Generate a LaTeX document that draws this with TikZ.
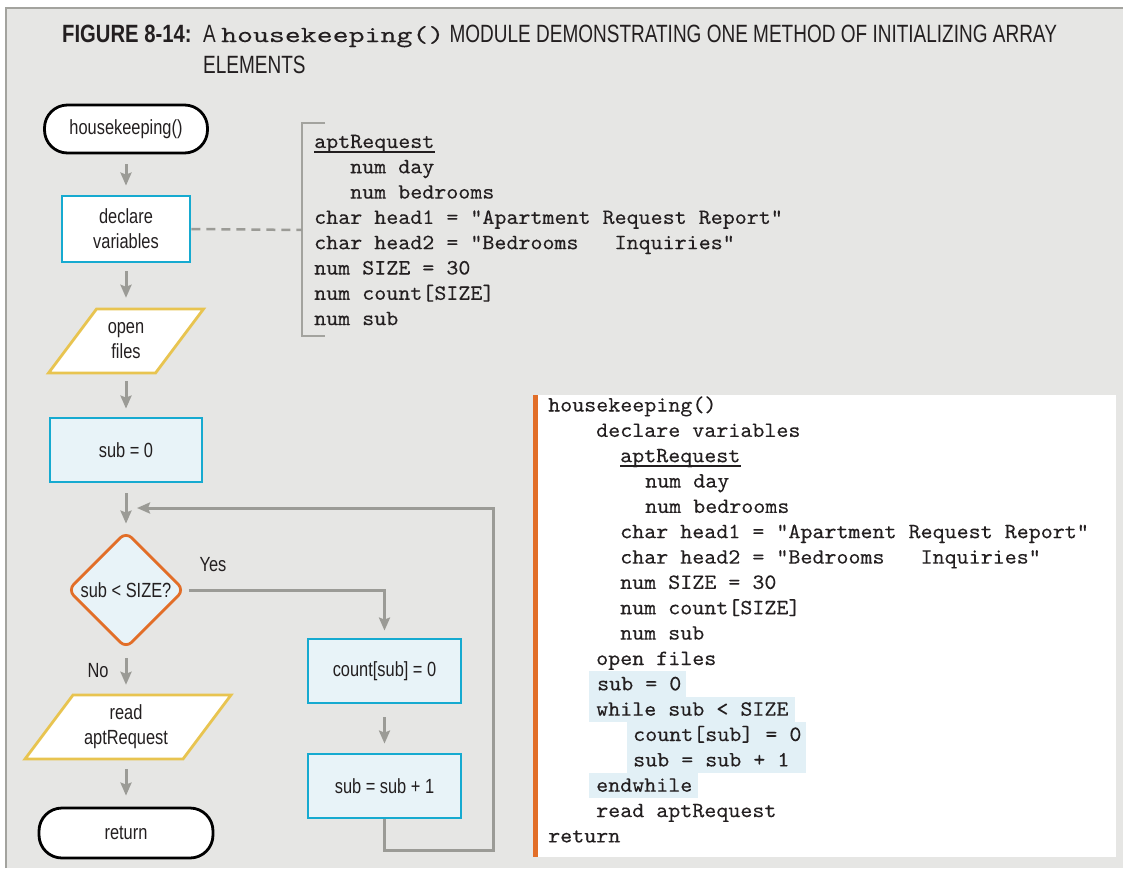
\documentclass[tikz,border=0pt]{standalone}
\usepackage{fontspec}
\setmainfont[FakeStretch=0.8]{Liberation Sans}
\newfontfamily\titlefont[FakeStretch=0.76]{Liberation Sans}
\newfontfamily\titleboldfont[FakeStretch=0.81]{Liberation Sans Bold}
\newfontfamily\codefont[FakeStretch=1.05,FakeBold=0.15]{lmmono10-regular.otf}
\newfontfamily\titlemono[FakeStretch=1.32,FakeBold=0.1]{lmmono10-regular.otf}
\usetikzlibrary{arrows.meta,shapes.geometric,calc}
\pgfdeclarelayer{bglayer}
\pgfsetlayers{bglayer,main}
\definecolor{bgc}{RGB}{230,230,228}
\definecolor{framec}{RGB}{163,163,158}
\definecolor{arrgray}{RGB}{155,155,150}
\definecolor{cyanb}{RGB}{22,170,208}
\definecolor{lblue}{RGB}{232,243,248}
\definecolor{orng}{RGB}{226,110,40}
\definecolor{yel}{RGB}{232,196,80}
\definecolor{hl}{RGB}{226,240,246}
\definecolor{txt}{RGB}{35,31,32}
\begin{document}
\begin{tikzpicture}[x=1pt,y=-1pt,
  flowtext/.style={font=\fontsize{20.5}{25}\selectfont, text=txt, align=center},
  term/.style={flowtext, draw=black, line width=2.8pt, fill=white, rounded corners=23pt, minimum height=48pt, inner sep=0pt},
  proc/.style={flowtext, draw=cyanb, line width=2.8pt, inner sep=0pt, minimum height=64pt},
  paratext/.style={flowtext, inner sep=0pt, minimum height=64pt, minimum width=100pt},
  parashape/.style={draw=yel, fill=white, line width=2.8pt},
  arr/.style={draw=arrgray, line width=3pt, -{Stealth[length=13pt,width=11pt,inset=2pt]}},
  code/.style={font=\codefont\fontsize{21.8}{25}\selectfont, text=txt, anchor=base west, inner sep=0pt},
  lbl/.style={font=\fontsize{20.5}{25}\selectfont, text=txt, inner sep=0pt}
]
\useasboundingbox (0,0) rectangle (1123,868);
\begin{pgfonlayer}{bglayer}
  \fill[white] (0,0) rectangle (1123,868);
  \fill[bgc] (6,8) rectangle (1123,868);
  \draw[framec, line width=2.5pt] (6,868) -- (6,8) -- (1123,8);
\end{pgfonlayer}

% title
\node[anchor=base west, inner sep=0pt, text=txt, font=\titleboldfont\fontsize{25}{30}\selectfont] (fig) at (62,42) {FIGURE 8-14:};
\node[anchor=base west, inner sep=0pt, text=txt, font=\titlefont\fontsize{25}{30}\selectfont] (t1) at (203,42) {A {\titlemono\fontsize{23}{30}\selectfont housekeeping()} MODULE DEMONSTRATING ONE METHOD OF INITIALIZING ARRAY};
\node[anchor=base west, inner sep=0pt, text=txt, font=\titlefont\fontsize{25}{30}\selectfont] (t2) at (203,73) {ELEMENTS};

% flowchart nodes
\node[term, minimum width=163pt] (hk) at (126,129) {housekeeping()};
\node[proc, fill=white, minimum width=128pt, minimum height=66pt] (decl) at (126,229) {declare\\variables};
\node[paratext] (open) at (126,341) {open\\files};
\node[proc, fill=lblue, minimum width=152pt] (sub0) at (126,450) {sub = 0};
\node[diamond, draw=orng, fill=lblue, line width=2.8pt, rounded corners=8pt, minimum width=117pt, minimum height=117pt, inner sep=0pt] (dec) at (126,590) {};
\node[flowtext, inner sep=0pt] (dect) at (dec.center) {sub < SIZE?};
\node[paratext] (read) at (126,727) {read\\aptRequest};
\node[term, minimum width=174pt, minimum height=50pt] (ret) at (126,833) {return};
\node[proc, fill=lblue, minimum width=153pt] (cnt) at (384.5,671) {count[sub] = 0};
\node[proc, fill=lblue, minimum width=153pt] (inc) at (384.5,786) {sub = sub + 1};

\begin{pgfonlayer}{bglayer}
  \draw[parashape] ($(open.center)+(-77.5,32)$) -- ++(107,0) -- ++(48,-64) -- ++(-107,0) -- cycle;
  \draw[parashape] ($(read.center)+(-101,32)$) -- ++(158,0) -- ++(48,-64) -- ++(-158,0) -- cycle;
\end{pgfonlayer}

\node[lbl] (yes) at (213,565) {Yes};
\node[lbl] (no) at (98,671) {No};

% connectors
\draw[arr, shorten <=10pt, shorten >=9pt] (hk.south) -- (decl.north);
\draw[arr, shorten <=8pt, shorten >=11pt] (decl.south) -- (open.north);
\draw[arr, shorten <=8pt, shorten >=8pt] (open.south) -- (sub0.north);
\draw[arr, shorten <=10pt, shorten >=6.5pt] (sub0.south) -- (dec.north);
\draw[arr, shorten <=8.5pt, shorten >=10pt] (dec.south) -- (read.north);
\draw[arr, shorten <=10pt, shorten >=11pt] (read.south) -- (ret.north);
\draw[arr, shorten <=3pt, shorten >=7pt] (dec.east) -| (cnt.north);
\draw[arr, shorten <=13pt, shorten >=9pt] (cnt.south) -- (inc.north);
\coordinate (c1) at (493,850);
\coordinate (c2) at (493,508);
\coordinate (lt) at (137,508);
\draw[arr] (inc.south) |- (c1) -- (c2) -- (lt);

% bracket with declarations
\coordinate (brk) at (302,230);
\draw[framec, line width=2.8pt] (325,123) -- (302,123) -- (302,336) -- (325,336);
\draw[arrgray, line width=2.5pt, dash pattern=on 9pt off 6pt] (decl.east) -- (brk);
\node[code] (b0) at (314,148) {aptRequest};
\draw[txt, line width=1.8pt] ([yshift=-4pt]b0.base west) -- ([yshift=-4pt]b0.base east);
\node[code] (b1) at (350,173.3) {num day};
\node[code] (b2) at (350,198.6) {num bedrooms};
\node[code] (b3) at (314,223.9) {char head1 = "Apartment Request Report"};
\node[code] (b4) at (314,249.2) {char head2 = "Bedrooms~~~Inquiries"};
\node[code] (b5) at (314,274.5) {num SIZE = 30};
\node[code] (b6) at (314,299.8) {num count[SIZE]};
\node[code] (b7) at (314,325.1) {num sub};

% pseudocode box
\fill[white] (534,395) rectangle (1116,857);
\fill[orng] (533,395) rectangle (538,857);
\fill[hl] (589,671) rectangle (686,697);
\fill[hl] (589,697) rectangle (795,722);
\fill[hl] (627,722) rectangle (806,773);
\fill[hl] (589,773) rectangle (698,798);
\node[code] (p0) at (548,411.5) {housekeeping()};
\node[code] (p1) at (596,436.9) {declare variables};
\node[code] (p2) at (620,462.2) {aptRequest};
\draw[txt, line width=1.8pt] ([yshift=-4pt]p2.base west) -- ([yshift=-4pt]p2.base east);
\node[code] (p3) at (645,487.5) {num day};
\node[code] (p4) at (645,512.9) {num bedrooms};
\node[code] (p5) at (620,538.2) {char head1 = "Apartment Request Report"};
\node[code] (p6) at (620,563.6) {char head2 = "Bedrooms~~~Inquiries"};
\node[code] (p7) at (620,588.9) {num SIZE = 30};
\node[code] (p8) at (620,614.3) {num count[SIZE]};
\node[code] (p9) at (620,639.6) {num sub};
\node[code] (p10) at (596,665.0) {open files};
\node[code] (p11) at (597,690.3) {sub = 0};
\node[code] (p12) at (596,715.7) {while sub < SIZE};
\node[code] (p13) at (633,741.0) {count[sub] = 0};
\node[code] (p14) at (633,766.4) {sub = sub + 1};
\node[code] (p15) at (596,791.7) {endwhile};
\node[code] (p16) at (596,817.1) {read aptRequest};
\node[code] (p17) at (548,842.4) {return};
\end{tikzpicture}
\end{document}
